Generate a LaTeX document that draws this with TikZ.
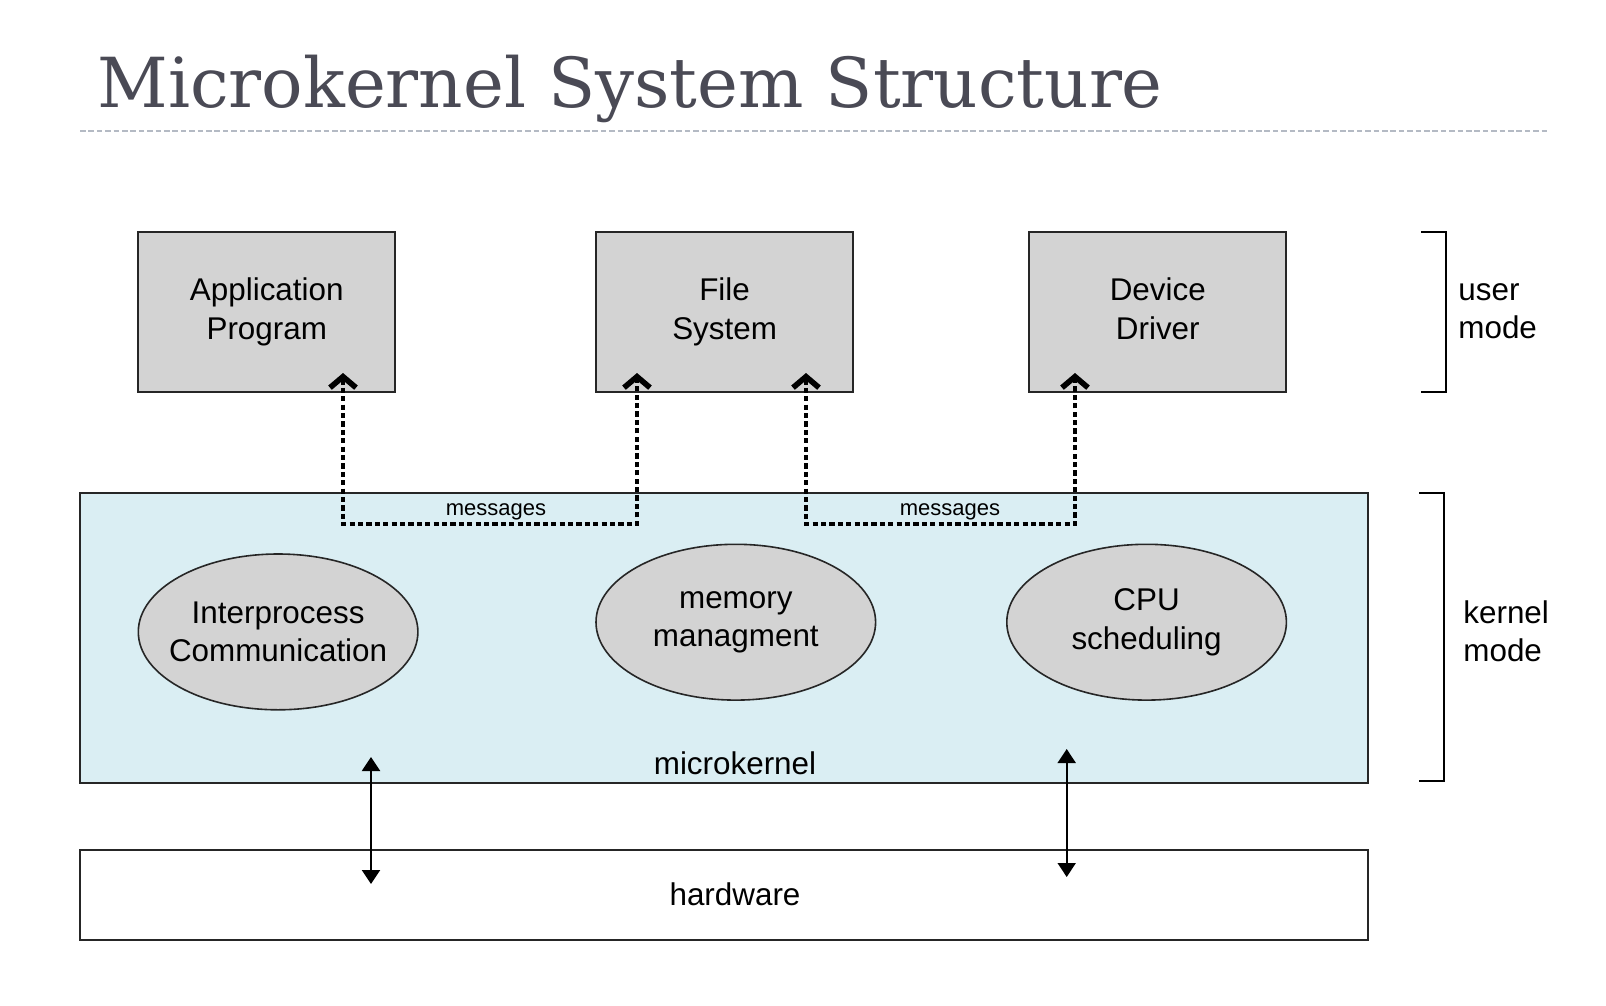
\documentclass[tikz,border=0pt]{standalone}
\usepackage{fontspec}
\setmainfont{Liberation Sans}
\newfontfamily\titlefont{DejaVu Serif}
\usetikzlibrary{arrows.meta,shapes.geometric}

\definecolor{titlegray}{HTML}{4A4A55}
\definecolor{rulegray}{HTML}{B4BAC4}
\definecolor{boxgray}{HTML}{D3D3D3}
\definecolor{kernblue}{HTML}{DAEEF3}

\begin{document}
\begin{tikzpicture}[x=0.5pt, y=-0.5pt,
    txt/.style={font=\fontsize{15.7}{19.1}\selectfont, align=center},
    userbox/.style={txt, draw=black!85, line width=1pt, fill=boxgray,
        minimum width=128.5pt, minimum height=80.4pt, inner sep=0pt},
    service/.style={ellipse, draw=black!85, line width=0.8pt, fill=boxgray,
        minimum width=139.8pt, minimum height=77.9pt, inner sep=0pt},
    layer/.style={draw=black!85, line width=1pt, minimum width=644.2pt, inner sep=0pt},
    msgline/.style={line width=1.8pt, dash pattern=on 2.6pt off 1.6pt,
        {Straight Barb[length=5.5pt, width=13pt, line width=2.8pt]}-{Straight Barb[length=5.5pt, width=13pt, line width=2.8pt]}},
    hwarrow/.style={line width=1pt, {Triangle[length=7pt, width=9pt]}-{Triangle[length=7pt, width=9pt]}},
    bracket/.style={line width=1.2pt},
    side/.style={txt, align=left, anchor=west, inner sep=0pt}]

    \useasboundingbox (0,0) rectangle (1606,1006);

    % Title and the dashed rule under it.
    \node[anchor=base west, inner sep=0pt, text=titlegray, font=\titlefont\fontsize{34.5}{40}\selectfont]
        (title) at (97,107.5) {Microkernel System Structure};
    \draw[rulegray, line width=1pt, dash pattern=on 2.8pt off 1.4pt] (80,131) -- (1549,131);

    % Microkernel layer and hardware layer.
    \node[layer, fill=kernblue, minimum height=145pt] (kern) at (724.1,637.6) {};
    \node[layer, fill=white, minimum height=45pt] (hw) at (724.1,895.2) {};
    \node[txt] (kernlbl) at (735,763) {microkernel};
    \node[txt] (hwlbl) at (735,894) {hardware};

    % User mode programs.
    \node[userbox] (app) at (266.8,311.9) {Application\\Program};
    \node[userbox] (fs)  at (724.6,311.9) {File\\System};
    \node[userbox] (dd)  at (1157.8,311.9) {Device\\Driver\vphantom{g}};

    % Services inside the microkernel.
    \node[service, label={[txt]center:Interprocess\\Communication}] (ipc) at (278.1,631.9) {};
    \node[service, label={[txt]center:memory\\managment}] (mem) at (735.8,622.2) {};
    \node[service, label={[txt]center:CPU\\scheduling}] (cpu) at (1146.6,622.2) {};

    % Message paths between the programs.
    \coordinate (appin) at (343,373);
    \coordinate (fsinl) at (637,373);
    \coordinate (fsinr) at (806,373);
    \coordinate (ddin)  at (1075,373);
    \coordinate (msga)  at (490,524);
    \coordinate (msgb)  at (940,524);
    \draw[msgline] (appin) |- (msga) -| (fsinl);
    \draw[msgline] (fsinr) |- (msgb) -| (ddin);
    \node[font=\fontsize{11}{13}\selectfont] (msglbla) at (496,512) {messages};
    \node[font=\fontsize{11}{13}\selectfont] (msglblb) at (950,512) {messages};

    % Kernel to hardware.
    \coordinate (hwa1) at (371,757);
    \coordinate (hwb1) at (371,884);
    \coordinate (hwa2) at (1066.7,749);
    \coordinate (hwb2) at (1066.7,877);
    \draw[hwarrow] (hwa1) -- (hwb1);
    \draw[hwarrow] (hwa2) -- (hwb2);

    % Mode brackets on the right.
    \draw[bracket] (1421,232) -| (1446,392) -- (1421,392);
    \draw[bracket] (1419,493) -| (1444,781) -- (1419,781);
    \node[side] (usermode) at (1458,311) {user\\mode};
    \node[side] (kernmode) at (1463,631) {kernel\\mode};

\end{tikzpicture}
\end{document}
